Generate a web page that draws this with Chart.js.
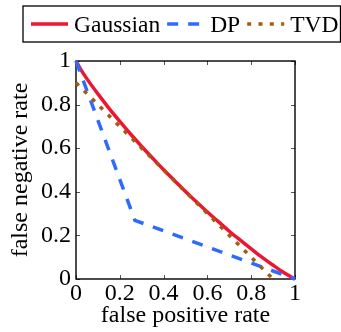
<!DOCTYPE html>
<html>
<head>
<meta charset="utf-8">
<script src="https://cdn.jsdelivr.net/npm/chart.js@4"></script>
<style>
  html, body { margin: 0; padding: 0; background: #fff; }
  #roc { display: block; }
</style>
</head>
<body>
<canvas id="roc" width="341" height="332"></canvas>
<script>
// trade-off curves: false negative rate against false positive rate
const seriesNames = ['Gaussian', 'DP', 'TVD'];

const gaussianFpr = [0, 0.02, 0.05, 0.1, 0.15, 0.2, 0.25, 0.3, 0.35, 0.4, 0.45, 0.5,
                     0.55, 0.6, 0.65, 0.7, 0.75, 0.8, 0.85, 0.9, 0.95, 1];
const gaussianFnr = [1, 0.964, 0.918, 0.849, 0.784, 0.723, 0.664, 0.608, 0.554, 0.501, 0.451, 0.401,
                     0.354, 0.307, 0.263, 0.219, 0.178, 0.138, 0.099, 0.063, 0.029, 0];

const dpFpr = [0, 0.269, 1];
const dpFnr = [1, 0.269, 0];

const tvdFpr = [0, 0.9];
const tvdFnr = [0.9, 0];

const tickValues = [0, 0.2, 0.4, 0.6, 0.8, 1];
const tickLabels = ['0', '0.2', '0.4', '0.6', '0.8', '1'];

const colors = ['#ee1530', '#2d6bff', '#a85a0c'];
const dashes = [[], [11, 10], [4, 7.3]];

const FONT = "'Liberation Serif', 'DejaVu Serif', serif";

function toPoints(xs, ys) {
  return xs.map((x, i) => ({ x: x, y: ys[i] }));
}

// box around the plot with ticks pointing inwards on all four sides
const frameTicks = {
  id: 'frameTicks',
  beforeDatasetsDraw(chart) {
    const { ctx, chartArea: a, scales } = chart;
    ctx.save();
    ctx.strokeStyle = '#555';
    ctx.lineWidth = 1;
    tickValues.forEach(v => {
      const px = Math.round(scales.x.getPixelForValue(v)) + 0.5;
      const py = Math.round(scales.y.getPixelForValue(v)) + 0.5;
      ctx.beginPath();
      ctx.moveTo(px, a.bottom); ctx.lineTo(px, a.bottom - 4);
      ctx.moveTo(px, a.top); ctx.lineTo(px, a.top + 4);
      ctx.moveTo(a.left, py); ctx.lineTo(a.left + 4, py);
      ctx.moveTo(a.right, py); ctx.lineTo(a.right - 4, py);
      ctx.stroke();
    });
    ctx.strokeStyle = '#000';
    ctx.lineWidth = 1.4;
    ctx.strokeRect(a.left, a.top, a.right - a.left, a.bottom - a.top);
    ctx.restore();
  }
};

// legend in a single framed row above the plot
const boxedLegend = {
  id: 'boxedLegend',
  afterDraw(chart) {
    const ctx = chart.ctx;
    const left = 23, top = 6, height = 36;
    const midY = top + height / 2;
    const lineLen = 37, gapAfterLine = 6, gapAfterText = 7;
    ctx.save();
    ctx.font = '23.5px ' + FONT;
    ctx.textBaseline = 'alphabetic';
    let x = left + 8;
    chart.data.datasets.forEach(ds => {
      ctx.strokeStyle = ds.borderColor;
      ctx.lineWidth = ds.borderWidth;
      ctx.setLineDash(ds.borderDash || []);
      ctx.beginPath();
      ctx.moveTo(x, midY);
      ctx.lineTo(x + lineLen, midY);
      ctx.stroke();
      x += lineLen + gapAfterLine;
      ctx.setLineDash([]);
      ctx.fillStyle = '#000';
      ctx.fillText(ds.label, x, midY + 7.5);
      x += ctx.measureText(ds.label).width + gapAfterText;
    });
    const right = x - gapAfterText + 2;
    ctx.strokeStyle = '#000';
    ctx.lineWidth = 1.3;
    ctx.strokeRect(left, top, right - left, height);
    ctx.restore();
  }
};

const pointSets = [
  toPoints(gaussianFpr, gaussianFnr),
  toPoints(dpFpr, dpFnr),
  toPoints(tvdFpr, tvdFnr)
];

const datasets = seriesNames.map((name, i) => ({
  label: name,
  data: pointSets[i],
  borderColor: colors[i],
  borderWidth: 3.5,
  borderDash: dashes[i],
  pointRadius: 0,
  fill: false,
  cubicInterpolationMode: i === 0 ? 'monotone' : 'default',
  tension: 0,
  clip: 4,
  order: seriesNames.length - i
}));

function axis(titleText, tickPad, titlePad, extra) {
  return Object.assign({
    type: 'linear',
    min: 0,
    max: 1,
    grid: { display: false, drawTicks: false },
    border: { display: false },
    afterBuildTicks(scale) {
      scale.ticks = tickValues.map(v => ({ value: v }));
    },
    ticks: {
      color: '#000',
      padding: tickPad,
      font: { family: FONT, size: 24 },
      callback: (value) => tickLabels[tickValues.indexOf(value)],
      maxRotation: 0,
      autoSkip: false
    },
    title: {
      display: true,
      text: titleText,
      color: '#000',
      padding: titlePad,
      font: { family: FONT, size: 24 }
    }
  }, extra);
}

function drawChart() {
  const ctx = document.getElementById('roc').getContext('2d');
  new Chart(ctx, {
    type: 'line',
    data: { datasets },
    options: {
      responsive: false,
      animation: false,
      layout: { padding: { left: 0, top: 61, right: 46, bottom: 0 } },
      plugins: {
        legend: { display: false },
        tooltip: { enabled: false }
      },
      scales: {
        x: axis('false positive rate', 0, { top: 0, bottom: 2 }, {
          afterFit(scale) { scale.height = 53; }
        }),
        y: axis('false negative rate', 5, { top: 6, bottom: 0 }, {
          afterFit(scale) { scale.width = 76; }
        })
      }
    },
    plugins: [frameTicks, boxedLegend]
  });
}

document.fonts.load("24px 'Liberation Serif'").then(drawChart, drawChart);
</script>
</body>
</html>
